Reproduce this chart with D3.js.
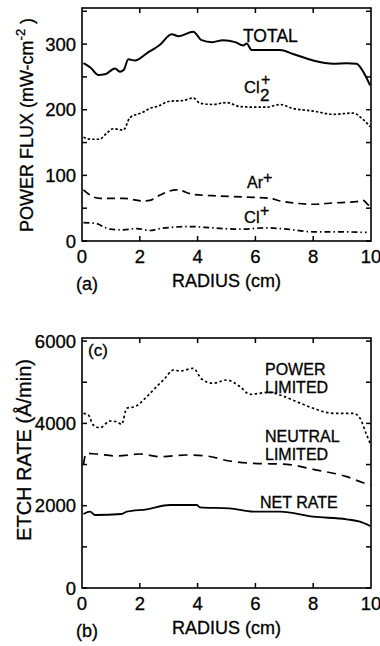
<!DOCTYPE html>
<meta charset="utf-8">
<style>
body { margin: 0; background: #fff; }
svg { display: block; font-family: "Liberation Sans", Arial, Helvetica, sans-serif; }
svg text { fill: #000; stroke: #000; stroke-width: 0.3; }
</style>
<body>
<script src="https://cdn.jsdelivr.net/npm/d3@7"></script>
<script>
// radius (cm) and values for panel (a): power flux, mW/cm^2
const totalR  = [0.05, 0.3, 0.56, 0.8, 1.14, 1.31, 1.45, 1.6, 1.83, 2.24, 2.7, 3.1, 3.35, 3.85, 4.14, 4.5, 4.88, 5.3, 5.58, 5.7, 5.87, 6.85, 7.3, 8.0, 8.7, 9.16, 9.5, 9.73, 9.97];
const totalV  = [271, 264, 253, 254, 263, 258, 261, 277, 275, 286, 299, 315, 312, 319, 306, 303, 306, 303, 298, 301, 291, 291, 285, 275, 270, 271, 270, 258, 237];
const cl2R    = [0.05, 0.3, 0.6, 0.85, 1.08, 1.43, 1.66, 2.1, 2.35, 2.6, 3.04, 3.5, 3.85, 4.08, 4.53, 5.0, 5.45, 5.9, 6.4, 6.85, 7.3, 8.0, 8.7, 9.4, 9.68, 9.85, 9.97];
const cl2V    = [158, 155, 155, 164, 171, 169, 188, 196, 202, 205, 213, 214, 218, 210, 208, 211, 205, 204, 204, 208, 202, 198, 193, 195, 187, 180, 174];
const arR     = [0.05, 0.4, 0.62, 1.43, 2.1, 2.35, 2.7, 3.27, 3.85, 4.5, 5.7, 6.5, 6.85, 7.3, 8.0, 8.7, 9.5, 9.73, 9.9, 10];
const arV     = [78, 67, 65, 65, 61, 62, 70, 78, 71, 69, 67, 65, 61, 58, 56, 58, 60, 62, 55, 52];
const clR     = [0.05, 0.45, 0.97, 1.43, 1.9, 2.35, 2.7, 3.74, 4.5, 5.45, 6.4, 7.1, 8.0, 8.9, 9.85];
const clV     = [28, 27, 18, 17, 19, 16, 19, 22, 20, 18, 20, 18, 14, 14, 13];

// panel (b): etch rate, Å/min
const powerR   = [0.05, 0.22, 0.39, 0.62, 0.97, 1.2, 1.37, 1.55, 1.83, 2.24, 2.58, 2.87, 3.16, 3.4, 3.85, 4.14, 4.54, 5.0, 5.47, 5.81, 6.5, 6.85, 7.43, 8.0, 8.7, 9.39, 9.62, 9.85, 9.97];
const powerV   = [4245, 4204, 3961, 3895, 4058, 4041, 3978, 4367, 4406, 4649, 4892, 5096, 5297, 5273, 5339, 5079, 4974, 5054, 4892, 4707, 4756, 4690, 4527, 4367, 4245, 4245, 4124, 3718, 3524];
const neutralR = [0.05, 0.14, 0.5, 1.2, 2.0, 2.7, 3.6, 4.3, 5.1, 5.93, 7.08, 8.0, 9.16, 9.73, 10];
const neutralV = [2990, 3273, 3256, 3208, 3256, 3191, 3232, 3208, 3086, 3030, 3006, 2884, 2705, 2559, 2503];
const netR     = [0.05, 0.28, 0.45, 1.37, 1.55, 2.24, 3.04, 3.97, 4.08, 5.1, 5.93, 6.85, 8.0, 9.16, 9.62, 9.97];
const netV     = [1798, 1854, 1774, 1798, 1854, 1912, 2017, 2017, 1961, 1937, 1854, 1854, 1733, 1669, 1611, 1507];

const xTicks  = [0, 2, 4, 6, 8, 10];
const fluxTicks = [0, 100, 200, 300];
const etchTicks = [0, 2000, 4000, 6000];

const W = 380, H = 646;
const svg = d3.select("body").append("svg").attr("width", W).attr("height", H);

const x = d3.scaleLinear().domain([0, 10]).range([82, 371]);

function zip(r, v) { return r.map((d, i) => [d, v[i]]); }

function panel(y, majors, minorStep, yTitle, tag) {
  const g = svg.append("g");
  const [y0, y1] = y.range();
  // frame
  g.append("rect")
      .attr("x", x(0)).attr("y", y1)
      .attr("width", x(10) - x(0)).attr("height", y0 - y1)
      .attr("fill", "none").attr("stroke", "#000").attr("stroke-width", 1.6);

  // inward ticks on all four sides
  const t = 5;
  d3.range(0, y.domain()[1] + 1, minorStep).forEach(v => {
    g.append("line").attr("x1", x(0)).attr("x2", x(0) + t).attr("y1", y(v)).attr("y2", y(v));
    g.append("line").attr("x1", x(10)).attr("x2", x(10) - t).attr("y1", y(v)).attr("y2", y(v));
  });
  xTicks.slice(1, -1).forEach(v => {
    g.append("line").attr("x1", x(v)).attr("x2", x(v)).attr("y1", y0).attr("y2", y0 - t);
    g.append("line").attr("x1", x(v)).attr("x2", x(v)).attr("y1", y1).attr("y2", y1 + t);
  });
  g.selectAll("line").attr("stroke", "#000").attr("stroke-width", 1.5);

  g.selectAll(".yl").data(majors).join("text")
      .attr("x", x(0) - 6).attr("y", d => y(d))
      .attr("dy", "0.36em").attr("text-anchor", "end")
      .attr("font-size", 18.5).text(d => d);
  g.selectAll(".xl").data(xTicks).join("text")
      .attr("x", d => x(d)).attr("y", y0 + 22)
      .attr("text-anchor", "middle")
      .attr("font-size", 18.5).text(d => d);

  g.append("text")
      .attr("x", x(5)).attr("y", y0 + 46)
      .attr("text-anchor", "middle").attr("font-size", 18)
      .text("RADIUS (cm)");
  g.append("text")
      .attr("x", 76).attr("y", y0 + 49)
      .attr("font-size", 18).text(tag);

  yTitle(g.append("text").attr("text-anchor", "middle"));
  return g;
}

function curve(g, y, pts, dash, w) {
  g.append("path")
      .datum(pts)
      .attr("fill", "none")
      .attr("stroke", "#000")
      .attr("stroke-width", w || 1.7)
      .attr("stroke-dasharray", dash)
      .attr("d", d3.line().x(d => x(d[0])).y(d => y(d[1])).curve(d3.curveMonotoneX));
}

const lab = (g, px, py, s, fs) => g.append("text").attr("x", px).attr("y", py)
    .attr("font-size", fs || 16.5).text(s);

// ---- panel (a)
const ya = d3.scaleLinear().domain([0, 355]).range([241, 8]);
const ga = panel(ya, fluxTicks, 50, t => {
  t.attr("transform", "translate(33,125) rotate(-90)").attr("font-size", 18);
  t.append("tspan").text("POWER FLUX (mW-cm");
  t.append("tspan").attr("font-size", 13).attr("dy", -8).text("-2");
  t.append("tspan").attr("dy", 8).text(" )");
}, "(a)");

curve(ga, ya, zip(totalR, totalV), null, 2);
curve(ga, ya, zip(cl2R, cl2V), "2.5,2");
curve(ga, ya, zip(arR, arV), "8,5");
curve(ga, ya, zip(clR, clV), "6,3,1.5,3");

lab(ga, 243, 42, "TOTAL", 17.5);
lab(ga, 244, 93, "Cl");
lab(ga, 261, 85, "+", 16);
lab(ga, 260, 101, "2", 17);
lab(ga, 247, 188, "Ar", 16);
lab(ga, 263, 183, "+", 16);
lab(ga, 244, 223, "Cl");
lab(ga, 260, 216, "+", 16);

// ---- panel (b)
const yb = d3.scaleLinear().domain([0, 6075]).range([588, 338]);
const gb = panel(yb, etchTicks, 1000, t => {
  t.attr("transform", "translate(31,450) rotate(-90)").attr("font-size", 20)
      .text("ETCH RATE (Å/min)");
}, "(b)");

curve(gb, yb, zip(powerR, powerV), "2.5,2.5");
curve(gb, yb, zip(neutralR, neutralV), "9,6");
curve(gb, yb, zip(netR, netV), null, 1.8);

lab(gb, 88, 356, "(c)", 17);
lab(gb, 265, 375, "POWER", 16);
lab(gb, 265, 393, "LIMITED", 16);
lab(gb, 265, 442, "NEUTRAL", 16);
lab(gb, 265, 460, "LIMITED", 16);
lab(gb, 260, 508, "NET RATE", 16);
</script>
</body>
